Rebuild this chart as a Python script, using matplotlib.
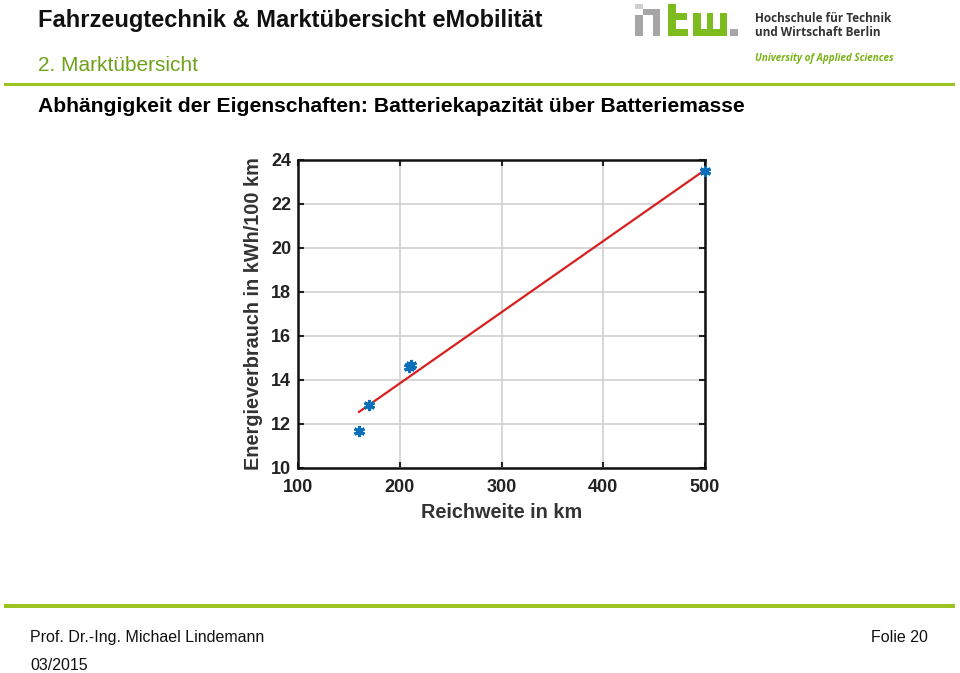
import matplotlib
matplotlib.use("Agg")
import matplotlib.pyplot as plt
from matplotlib.patches import Rectangle

# ---- data ----
reichweite = [160, 170, 209, 211, 500]
verbrauch = [11.7, 12.85, 14.6, 14.7, 23.5]
fit_x = [160, 500]
fit_y = [12.55, 23.55]
x_ticks = [100, 200, 300, 400, 500]
y_ticks = [10, 12, 14, 16, 18, 20, 22, 24]

W, H = 960, 673
fig = plt.figure(figsize=(9.6, 6.73), dpi=100)
fig.patch.set_facecolor("white")

def fx(px):
    return px / W

def fy(py):
    return 1 - py / H

FONT = ["Liberation Sans", "DejaVu Sans"]
LINEGREEN = "#9cc420"

# ---- header ----
fig.text(fx(38), fy(27), "Fahrzeugtechnik & Marktübersicht eMobilität",
         fontsize=17, fontweight="bold", family=FONT, color="#111111", va="baseline")
fig.text(fx(38), fy(71), "2. Marktübersicht",
         fontsize=15, family=FONT, color="#6fa21a", va="baseline")
fig.add_artist(Rectangle((fx(4), fy(86)), fx(951), 3 / H, transform=fig.transFigure,
                         color=LINEGREEN, lw=0))
fig.text(fx(38), fy(112), "Abhängigkeit der Eigenschaften: Batteriekapazität über Batteriemasse",
         fontsize=15.2, fontweight="bold", family=FONT, color="#000000", va="baseline")

# ---- logo (htw pixel blocks) ----
GRAY = "#a6a6a6"
LGRAY = "#cfcfcf"
LGREEN = "#7dbb1f"
blocks = [
    # h (gray)
    (635, 4, 8, 5, LGRAY), (635, 15, 8, 21, GRAY), (643, 9, 17, 6, GRAY), (653, 9, 7, 27, GRAY),
    # t (green)
    (668, 4, 8, 32, LGREEN), (676, 13, 11, 7, LGREEN), (676, 29, 12, 7, LGREEN),
    # w (green)
    (693, 13, 8, 23, LGREEN), (707, 13, 6, 23, LGREEN), (720, 13, 7, 23, LGREEN),
    (693, 29, 34, 7, LGREEN),
    # dot (gray)
    (730, 29, 8, 7, GRAY),
]
for x0, y0, w, h, c in blocks:
    fig.add_artist(Rectangle((fx(x0), fy(y0 + h)), w / W, h / H, transform=fig.transFigure,
                             color=c, lw=0))
LOGOFONT = ["Open Sans", "DejaVu Sans"]
fig.text(fx(755), fy(22), "Hochschule für Technik", fontsize=8.5, fontweight="bold",
         family=LOGOFONT, color="#333333", va="baseline")
fig.text(fx(755), fy(36), "und Wirtschaft Berlin", fontsize=8.5, fontweight="bold",
         family=LOGOFONT, color="#333333", va="baseline")
fig.text(fx(755), fy(61), "University of Applied Sciences", fontsize=7.1, fontweight="bold",
         style="italic", family=LOGOFONT, color="#7ab317", va="baseline")

# ---- chart ----
ax = fig.add_axes([fx(298), fy(468), fx(705) - fx(298), fy(160) - fy(468)])
ax.plot(fit_x, fit_y, color="#d62020", lw=1.6, zorder=3)
ax.plot(reichweite, verbrauch, linestyle="none", marker=(6, 2, 0), markersize=8,
        mew=2.2, color="#0a6fb8", zorder=4, clip_on=False)
ax.set_xlim(100, 500)
ax.set_ylim(10, 24)
ax.set_xticks(x_ticks)
ax.set_yticks(y_ticks)
ax.grid(True, color="#d0d0d0", lw=1.2)
ax.set_axisbelow(True)
for s in ax.spines.values():
    s.set_linewidth(1.8)
    s.set_color("#111111")
ax.tick_params(direction="in", length=4, width=1.5, top=True, right=True,
               labelsize=13, colors="#222222")
ax.tick_params(axis="x", pad=8)
ax.tick_params(axis="y", pad=5)
for lab in ax.get_xticklabels() + ax.get_yticklabels():
    lab.set_fontweight("bold")
    lab.set_family(FONT)
ax.set_xlabel("Reichweite in km", fontsize=14.3, fontweight="bold", family=FONT,
              color="#333333", labelpad=5)
ax.set_ylabel("Energieverbrauch in kWh/100 km", fontsize=14.3, fontweight="bold",
              family=FONT, color="#333333", labelpad=6)

# ---- footer ----
fig.add_artist(Rectangle((fx(4), fy(608)), fx(951), 4 / H, transform=fig.transFigure,
                         color=LINEGREEN, lw=0))
fig.text(fx(30), fy(642), "Prof. Dr.-Ing. Michael Lindemann", fontsize=11.5, family=FONT,
         color="#111111", va="baseline")
fig.text(fx(928), fy(642), "Folie 20", fontsize=11.5, family=FONT, color="#111111",
         va="baseline", ha="right")
fig.text(fx(30), fy(670), "03/2015", fontsize=11.5, family=FONT, color="#111111",
         va="baseline")

fig.savefig("out.png", dpi=100, facecolor="white")
